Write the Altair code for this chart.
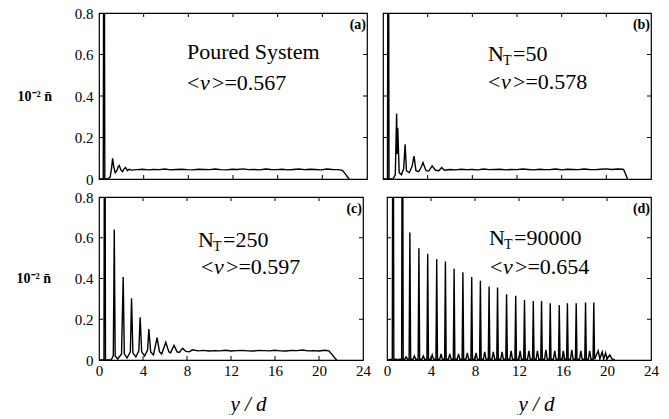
import altair as alt
import pandas as pd

FONT = "Liberation Serif"

# ---------------- data ----------------
x_ticks = [0, 4, 8, 12, 16, 20, 24]
y_ticks = [0, 0.2, 0.4, 0.6, 0.8]
x_inner_ticks = [4, 8, 12, 16, 20]
y_inner_ticks = [0.2, 0.4, 0.6]

panel_letters = ["(a)", "(b)", "(c)", "(d)"]
nt_values = ["50", "250", "90000"]
mean_nu = ["0.567", "0.578", "0.597", "0.654"]

WALL = 2.0  # wall-layer peak runs off the top of the axis (clipped)

# Panel (a) poured system
a_head_x = [0, 0.38, 0.45, 0.52, 0.8, 1.0, 1.12, 1.22, 1.32, 1.45, 1.6, 1.72, 1.82, 1.95, 2.1, 2.25, 2.38, 2.55, 2.7, 2.9]
a_head_y = [0, 0, WALL, 0, 0, 0.01, 0.05, 0.10, 0.06, 0.03, 0.04, 0.06, 0.065, 0.045, 0.035, 0.05, 0.055, 0.04, 0.047, 0.043]
a_base_y = [0.045, 0.047, 0.044, 0.046, 0.045, 0.048, 0.044, 0.046, 0.047, 0.045,
            0.044, 0.047, 0.046, 0.045, 0.048, 0.045, 0.044, 0.047, 0.046, 0.049,
            0.045, 0.046, 0.044, 0.048, 0.046, 0.045, 0.047, 0.044, 0.046, 0.048,
            0.045, 0.047, 0.046, 0.044, 0.048, 0.046, 0.045]
a_tail_x = [21.8, 22.0, 22.4]
a_tail_y = [0.042, 0.028, 0.0]

# Panel (b) N_T = 50
b_head_x = [0, 0.40, 0.47, 0.54, 0.9, 1.1, 1.22, 1.27, 1.32, 1.45, 1.65, 1.85, 1.98, 2.1, 2.35, 2.6, 2.78,
            2.95, 3.2, 3.45, 3.58, 3.85, 4.1, 4.4, 4.7, 5.0, 5.25, 5.5]
b_head_y = [0, 0, WALL, 0, 0, 0.02, 0.315, 0.12, 0.247, 0.03, 0.02, 0.05, 0.167, 0.04, 0.03, 0.06, 0.11,
            0.04, 0.035, 0.06, 0.079, 0.04, 0.038, 0.063, 0.042, 0.04, 0.055, 0.042]
b_base_y = [0.046, 0.044, 0.047, 0.045, 0.046, 0.044, 0.048, 0.045, 0.046, 0.047,
            0.044, 0.046, 0.045, 0.048, 0.046, 0.044, 0.047, 0.045, 0.046, 0.048,
            0.044, 0.047, 0.046, 0.045, 0.048, 0.046, 0.045, 0.047, 0.049, 0.046,
            0.048, 0.047]
b_tail_x = [21.6, 21.9]
b_tail_y = [0.04, 0.0]

# Panel (c) N_T = 250
c_head_x = [0, 0.45, 0.52, 0.59, 1.1, 1.3, 1.39, 1.47, 1.7, 2.05, 2.2, 2.3, 2.55, 2.85, 2.96, 3.08, 3.35,
            3.62, 3.74, 3.88, 4.15, 4.42, 4.53, 4.7, 4.95, 5.28, 5.5, 5.7, 6.07, 6.35, 6.5, 6.82, 7.1,
            7.3, 7.6, 7.9, 8.2, 8.5]
c_head_y = [0, 0, WALL, 0, 0, 0.02, 0.64, 0.02, 0.005, 0.03, 0.407, 0.03, 0.01, 0.04, 0.303, 0.035, 0.015,
            0.045, 0.21, 0.04, 0.02, 0.05, 0.152, 0.04, 0.025, 0.11, 0.04, 0.03, 0.087, 0.04, 0.035, 0.072, 0.04,
            0.037, 0.057, 0.042, 0.04, 0.05]
c_base_y = [0.045, 0.047, 0.044, 0.046, 0.045, 0.048, 0.044, 0.046, 0.047, 0.045,
            0.044, 0.047, 0.046, 0.045, 0.048, 0.045, 0.044, 0.047, 0.046, 0.049,
            0.045, 0.046, 0.044, 0.048]
c_tail_x = [20.9, 21.6]
c_tail_y = [0.045, 0.0]

# Panel (d) N_T = 90000 : crystallised layers
d_peak_x = [0.55, 1.4, 2.08, 2.9, 3.7, 4.52, 5.31, 6.1, 6.9, 7.7, 8.49, 9.28, 10.05, 10.87, 11.7,
            12.5, 13.3, 14.05, 14.84, 15.66, 16.4, 17.2, 18.05, 18.8]
d_peak_h = [WALL, WALL, 0.626, 0.549, 0.521, 0.495, 0.484, 0.448, 0.431, 0.407, 0.389, 0.361, 0.356,
            0.323, 0.315, 0.295, 0.29, 0.29, 0.279, 0.27, 0.279, 0.279, 0.282, 0.282]
d_bump_h = [0.0, 0.015, 0.02, 0.02, 0.025, 0.03, 0.03, 0.03, 0.035, 0.035, 0.04, 0.04, 0.04, 0.045,
            0.045, 0.045, 0.045, 0.05, 0.045, 0.045, 0.05, 0.045, 0.045]
d_tail_x = [19.2, 19.35, 19.56, 19.7, 19.87, 20.0, 20.26, 20.45, 20.7]
d_tail_y = [0.045, 0.005, 0.04, 0.005, 0.035, 0.005, 0.025, 0.005, 0.0]


def profile(head_x, head_y, base_y, tail_x, tail_y):
    xs = list(head_x) + [head_x[-1] + 0.5 * (i + 1) for i in range(len(base_y))] + list(tail_x)
    ys = list(head_y) + list(base_y) + list(tail_y)
    return pd.DataFrame({"x": xs, "y": ys})


def layered_profile(px, ph, bumps, tail_x, tail_y):
    pts = [(0.0, 0.0)]
    for i, (x, h) in enumerate(zip(px, ph)):
        pts += [(x - 0.07, 0.004), (x, h), (x + 0.07, 0.004)]
        if i < len(bumps):
            mid = (x + px[i + 1]) / 2
            pts += [(mid - 0.12, 0.004), (mid, bumps[i]), (mid + 0.12, 0.004)]
    pts += list(zip(tail_x, tail_y))
    return pd.DataFrame(pts, columns=["x", "y"])


df_a = profile(a_head_x, a_head_y, a_base_y, a_tail_x, a_tail_y)
df_b = profile(b_head_x, b_head_y, b_base_y, b_tail_x, b_tail_y)
df_c = profile(c_head_x, c_head_y, c_base_y, c_tail_x, c_tail_y)
df_d = layered_profile(d_peak_x, d_peak_h, d_bump_h, d_tail_x, d_tail_y)

one = pd.DataFrame({"k": [0]})


def txt(s, x, y, size=22, weight="normal", align="left", baseline="alphabetic", style="normal"):
    return alt.Chart(one).mark_text(
        text=s, font=FONT, fontSize=size, fontWeight=weight, align=align,
        baseline=baseline, color="black", fontStyle=style
    ).encode(x=alt.value(x), y=alt.value(y))


def nu_block(val, x, y):
    # "<ν>=value" with an italic nu
    return [txt("<", x, y), txt("ν", x + 13, y, style="italic"),
            txt(">=" + val, x + 25, y)]


def nt_block(nt, x, y):
    return [txt("N", x, y), txt("T", x + 15, y + 4, size=14), txt("=" + nt, x + 25, y)]


def panel(df, w, h, letter, texts, show_x, show_y, ytitle_x):
    xs = alt.Scale(domain=[0, 24], nice=False, zero=False)
    ys = alt.Scale(domain=[0, 0.8], nice=False, zero=False)
    if show_x:
        xax = alt.Axis(
            values=x_ticks, format="~g", ticks=False, domain=False, grid=False,
            labelFlush=False, labelOverlap=False, labelFont=FONT, labelFontSize=15,
            labelColor="black", labelPadding=3,
            title="y / d", titleFont=FONT, titleFontSize=21, titleFontStyle="italic",
            titleFontWeight="normal", titleColor="black", titleX=w / 2 + 17, titleY=50,
            titleBaseline="alphabetic", titleAlign="center")
    else:
        xax = None
    if show_y:
        yax = alt.Axis(
            values=y_ticks, format="~g", ticks=False, domain=False, grid=False,
            labelFlush=False, labelOverlap=False, labelFont=FONT, labelFontSize=15,
            labelColor="black", labelPadding=6,
            title="10⁻² n̄", titleFont=FONT, titleFontSize=14, titleFontWeight="bold",
            titleColor="black", titleAngle=0, titleX=ytitle_x, titleY=h / 2,
            titleAlign="left", titleBaseline="middle")
    else:
        yax = None

    xenc = alt.X("x:Q", scale=xs, axis=xax)
    yenc = alt.Y("y:Q", scale=ys, axis=yax)

    line = alt.Chart(df).mark_line(color="black", strokeWidth=1.4, clip=True).encode(x=xenc, y=yenc)

    tx = pd.DataFrame({"x": x_inner_ticks})
    ty = pd.DataFrame({"y": y_inner_ticks})
    tick = dict(color="black", strokeWidth=1)
    t_bottom = alt.Chart(tx).mark_rule(**tick).encode(x=xenc, y=alt.value(h), y2=alt.value(h - 4))
    t_top = alt.Chart(tx).mark_rule(**tick).encode(x=xenc, y=alt.value(0), y2=alt.value(4))
    t_left = alt.Chart(ty).mark_rule(**tick).encode(y=yenc, x=alt.value(0), x2=alt.value(4))
    t_right = alt.Chart(ty).mark_rule(**tick).encode(y=yenc, x=alt.value(w - 4), x2=alt.value(w))

    lab = txt(letter, w - 1, 16, size=14, weight="bold", align="right")
    layers = [line, t_bottom, t_top, t_left, t_right, lab] + texts
    return alt.layer(*layers).properties(width=w, height=h)


WT, HT = 268, 166
WB, HB = 264, 163

pa = panel(df_a, WT, HT, panel_letters[0],
           [txt("Poured System", 88, 46)] + nu_block(mean_nu[0], 88, 77), False, True, -82)
pb = panel(df_b, WT, HT, panel_letters[1],
           nt_block(nt_values[0], 105, 48) + nu_block(mean_nu[1], 105, 76), False, False, 0)
pc = panel(df_c, WB, HB, panel_letters[2],
           nt_block(nt_values[1], 99, 50) + nu_block(mean_nu[2], 102, 77), True, True, -83)
pd_ = panel(df_d, WB, HB, panel_letters[3],
            nt_block(nt_values[2], 102, 48) + nu_block(mean_nu[3], 103, 77), True, False, 0)

top = alt.hconcat(pa, pb, spacing=12)
bottom = alt.hconcat(pc, pd_, spacing=10)

chart = alt.vconcat(top, bottom, spacing=1).properties(
    padding={"left": 15, "top": 5, "right": 0, "bottom": 0},
    background="white",
).configure_view(stroke="black", strokeWidth=1.2)

chart.save("out.html", embed_options={"renderer": "svg", "actions": False})
